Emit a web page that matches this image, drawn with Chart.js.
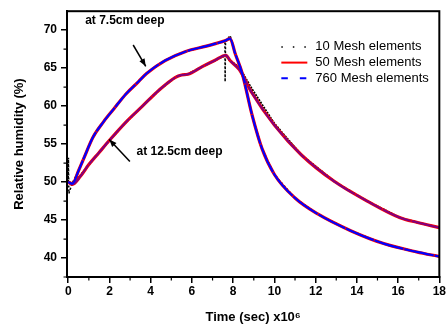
<!DOCTYPE html>
<html>
<head>
<meta charset="utf-8">
<script src="https://cdn.jsdelivr.net/npm/chart.js@4.4.1/dist/chart.umd.min.js"></script>
<style>
  html, body { margin: 0; padding: 0; background: #fff; }
  #wrap { width: 447px; height: 328px; }
</style>
</head>
<body>
<div id="wrap"><canvas id="chart" width="447" height="328"></canvas></div>
<script>
// ---------- data (time in 10^6 s, relative humidity in %) ----------
// 7.5 cm deep : 50 and 760 mesh elements lie on top of each other
const timeTop = [0, 0.2, 0.5, 0.75, 1.2, 1.7, 2.2, 2.8, 3.4, 3.8, 4.7, 5.7, 6.7, 7.6, 7.85,
  8.1, 8.43, 8.92, 9.4, 10.0, 11.0, 12.1, 13.7, 15.3, 16.9, 18];
const rhTop50 = [50.0, 49.8, 51.5, 53.1, 55.9, 57.9, 59.6, 61.6, 63.2, 64.3, 66.0, 67.2, 67.9, 68.6, 68.9,
  66.9, 64.4, 58.8, 54.4, 51.0, 47.9, 45.8, 43.6, 41.9, 40.8, 40.2];
const rhTop760 = [50.0, 49.8, 51.5, 53.1, 55.9, 57.9, 59.6, 61.6, 63.2, 64.3, 66.0, 67.2, 67.9, 68.6, 68.9,
  66.9, 64.4, 58.8, 54.4, 51.0, 47.9, 45.8, 43.6, 41.9, 40.8, 40.2];
const timeTop10 = [0, 0.01, 0.03, 0.2, 0.5, 0.75, 1.2, 1.7, 2.2, 2.8, 3.4, 3.8, 4.7, 5.7, 6.7, 7.6,
  7.61, 7.63, 7.85, 8.1, 8.43, 8.92, 9.4, 10.0, 11.0, 12.1, 13.7, 15.3, 16.9, 18];
const rhTop10 = [50.0, 53.2, 48.5, 49.9, 51.5, 53.1, 55.9, 57.9, 59.6, 61.6, 63.2, 64.3, 66.0, 67.2, 67.9, 68.6,
  63.2, 68.4, 69.3, 67.0, 64.4, 58.8, 54.4, 51.0, 47.9, 45.8, 43.6, 41.9, 40.8, 40.2];

// 12.5 cm deep
const timeLow = [0, 0.2, 0.6, 1.0, 1.5, 2.0, 2.8, 3.6, 4.4, 5.2, 5.5, 5.8, 6.5, 7.1, 7.65, 7.85,
  8.3, 8.9, 10.0, 11.3, 12.9, 14.5, 16.1, 16.9, 18];
const rhLow50 = [50.0, 49.7, 50.8, 52.3, 53.9, 55.5, 57.9, 60.0, 62.1, 63.8, 64.1, 64.2, 65.2, 66.0, 66.7, 66.0,
  64.8, 61.8, 57.5, 53.6, 50.1, 47.5, 45.3, 44.7, 44.0];
const rhLow760 = [50.0, 49.7, 50.8, 52.3, 53.9, 55.5, 57.9, 60.0, 62.1, 63.8, 64.1, 64.2, 65.2, 66.0, 66.7, 66.0,
  64.8, 61.8, 57.5, 53.6, 50.1, 47.5, 45.3, 44.7, 44.0];
const timeLow10 = [0, 0.2, 0.6, 1.0, 1.5, 2.0, 2.8, 3.6, 4.4, 5.2, 5.5, 5.8, 6.5, 7.1, 7.65, 7.8,
  8.3, 8.9, 10.0, 11.3, 12.9, 14.5, 16.1, 16.9, 18];
const rhLow10 = [50.0, 49.8, 50.9, 52.3, 53.9, 55.5, 57.9, 60.0, 62.1, 63.8, 64.1, 64.2, 65.2, 66.0, 66.7, 66.1,
  65.1, 62.3, 57.7, 53.6, 50.1, 47.5, 45.3, 44.7, 44.0];

const legendLabels = ['10 Mesh elements', '50 Mesh elements', '760 Mesh elements'];
const xTicks = [0, 2, 4, 6, 8, 10, 12, 14, 16, 18];
const yTicks = [40, 45, 50, 55, 60, 65, 70];
const xMinor = [1, 3, 5, 7, 9, 11, 13, 15, 17];
const yMinor = [37.5, 42.5, 47.5, 52.5, 57.5, 62.5, 67.5];

const FONT = '"Liberation Sans", Arial, sans-serif';

const pts = (t, v) => t.map((x, i) => ({ x: x, y: v[i] }));

// ---------- plugins ----------
const frame = {
  id: 'frame',
  afterDraw(chart) {
    const { ctx, chartArea: a, scales } = chart;
    ctx.save();
    ctx.strokeStyle = '#000';
    ctx.lineWidth = 2;
    ctx.strokeRect(a.left, a.top, a.right - a.left, a.bottom - a.top);
    // minor ticks
    ctx.lineWidth = 1.2;
    ctx.beginPath();
    xMinor.forEach((v) => {
      const x = scales.x.getPixelForValue(v);
      ctx.moveTo(x, a.bottom);
      ctx.lineTo(x, a.bottom + 3.5);
    });
    yMinor.forEach((v) => {
      const y = scales.y.getPixelForValue(v);
      ctx.moveTo(a.left, y);
      ctx.lineTo(a.left - 3.5, y);
    });
    ctx.stroke();
    ctx.restore();
  },
};

function arrow(ctx, x1, y1, x2, y2) {
  const ang = Math.atan2(y2 - y1, x2 - x1);
  ctx.beginPath();
  ctx.moveTo(x1, y1);
  ctx.lineTo(x2, y2);
  ctx.stroke();
  ctx.beginPath();
  ctx.moveTo(x2, y2);
  ctx.lineTo(x2 - 8 * Math.cos(ang - 0.38), y2 - 8 * Math.sin(ang - 0.38));
  ctx.lineTo(x2 - 8 * Math.cos(ang + 0.38), y2 - 8 * Math.sin(ang + 0.38));
  ctx.closePath();
  ctx.fill();
}

const notes = {
  id: 'notes',
  afterDraw(chart) {
    const { ctx, scales: { x, y } } = chart;
    ctx.save();
    ctx.fillStyle = '#000';
    ctx.strokeStyle = '#000';
    ctx.lineWidth = 1.5;
    ctx.font = 'bold 12px ' + FONT;
    ctx.textBaseline = 'middle';
    ctx.fillText('at 7.5cm deep', x.getPixelForValue(0.82), y.getPixelForValue(71.22));
    ctx.fillText('at 12.5cm deep', x.getPixelForValue(3.31), y.getPixelForValue(54.0));
    arrow(ctx, x.getPixelForValue(3.15), y.getPixelForValue(68.05), x.getPixelForValue(3.76), y.getPixelForValue(65.25));
    arrow(ctx, x.getPixelForValue(2.99), y.getPixelForValue(52.7), x.getPixelForValue(1.99), y.getPixelForValue(55.6));

    // legend
    const styles = [
      { color: '#000', width: 1.5, dash: [1.5, 10] },
      { color: '#ff0000', width: 2, dash: [] },
      { color: '#0000ff', width: 2, dash: [6.5, 12] },
    ];
    const x0 = chart.chartArea.right - 158;
    const y0 = chart.chartArea.top + 35.7;
    ctx.font = '13px ' + FONT;
    styles.forEach((s, i) => {
      const yy = y0 + i * 15.7;
      ctx.strokeStyle = s.color;
      ctx.lineWidth = s.width;
      ctx.setLineDash(s.dash);
      ctx.beginPath();
      ctx.moveTo(x0, yy);
      ctx.lineTo(x0 + 26, yy);
      ctx.stroke();
      ctx.setLineDash([]);
      ctx.fillText(legendLabels[i], x0 + 34, yy);
    });
    ctx.restore();
  },
};

// ---------- chart ----------
const ctx = document.getElementById('chart').getContext('2d');

new Chart(ctx, {
  type: 'line',
  data: {
    datasets: [
      { label: '760 Mesh elements', data: pts(timeTop, rhTop760), borderColor: '#0000ff', borderWidth: 2.2,
        borderDash: [30, 1], cubicInterpolationMode: 'monotone', order: 0 },
      { label: '760 Mesh elements', data: pts(timeLow, rhLow760), borderColor: 'rgba(0,0,255,0.5)', borderWidth: 2,
        borderDash: [30, 1], cubicInterpolationMode: 'monotone', order: 0 },
      { label: '50 Mesh elements', data: pts(timeTop, rhTop50), borderColor: '#ff0000', borderWidth: 3.2,
        cubicInterpolationMode: 'monotone', order: 1 },
      { label: '50 Mesh elements', data: pts(timeLow, rhLow50), borderColor: '#ff0000', borderWidth: 3.2,
        cubicInterpolationMode: 'monotone', order: 1 },
      { label: '10 Mesh elements', data: pts(timeTop10, rhTop10), borderColor: '#000', borderWidth: 1.5,
        borderDash: [2, 2], tension: 0, order: 2 },
      { label: '10 Mesh elements', data: pts(timeLow10, rhLow10), borderColor: '#000', borderWidth: 2,
        borderDash: [2, 1], tension: 0, order: 2 },
    ],
  },
  options: {
    responsive: false,
    animation: false,
    events: [],
    elements: { point: { radius: 0 } },
    layout: { padding: { left: 4, right: 6, top: 7, bottom: 0 } },
    plugins: { legend: { display: false }, tooltip: { enabled: false } },
    scales: {
      x: {
        type: 'linear',
        min: -0.06,
        max: 18,
        afterBuildTicks: (s) => { s.ticks = xTicks.map((v) => ({ value: v })); },
        afterFit: (s) => { s.height = 51; },
        border: { color: '#000', width: 2 },
        grid: { drawOnChartArea: false, color: '#000', lineWidth: 1.5, tickLength: 6 },
        ticks: { color: '#000', padding: 1, maxRotation: 0, font: { family: FONT, size: 12, weight: 'bold' } },
        title: { display: true, text: 'Time (sec) x10\u2076', color: '#000', padding: { top: 0, bottom: 3 },
          font: { family: FONT, size: 13, weight: 'bold' } },
      },
      y: {
        min: 37.5,
        max: 72.5,
        afterBuildTicks: (s) => { s.ticks = yTicks.map((v) => ({ value: v })); },
        afterFit: (s) => { s.width = 63; },
        border: { color: '#000', width: 2 },
        grid: { drawOnChartArea: false, color: '#000', lineWidth: 1.5, tickLength: 6 },
        ticks: { color: '#000', padding: 4, font: { family: FONT, size: 12, weight: 'bold' } },
        title: { display: true, text: 'Relative humidity (%)', color: '#000', padding: { top: 8, bottom: 0 },
          font: { family: FONT, size: 13, weight: 'bold' } },
      },
    },
  },
  plugins: [frame, notes],
});
</script>
</body>
</html>
